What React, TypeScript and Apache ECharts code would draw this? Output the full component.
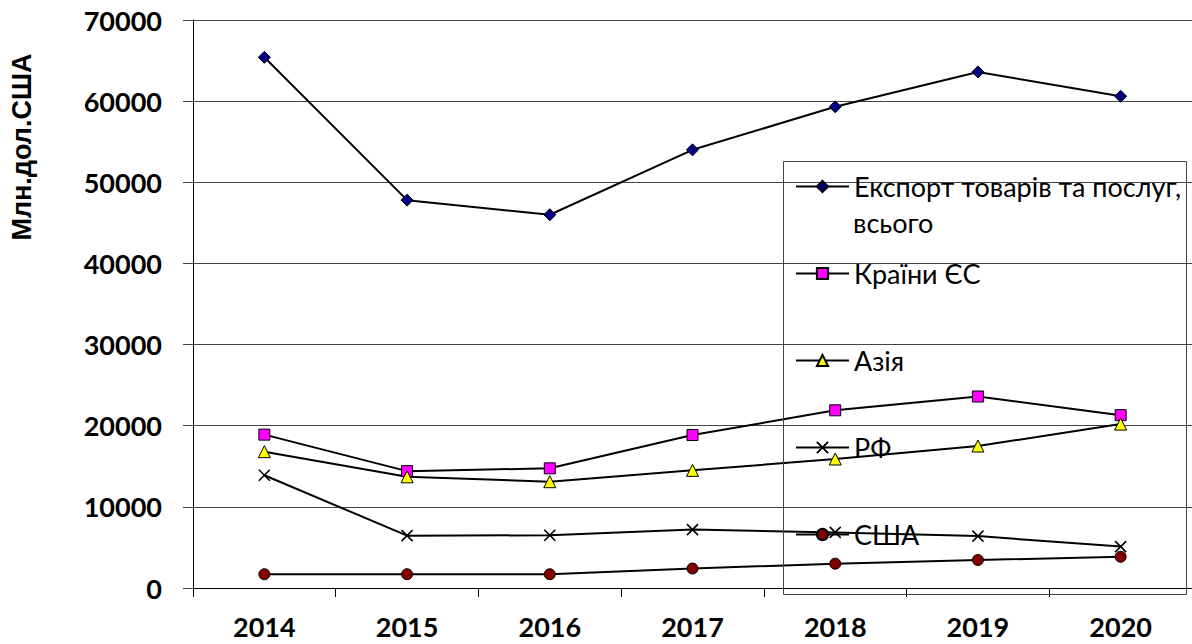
import React, { useEffect, useRef } from "react";
import * as echarts from "echarts";

const years = ["2014", "2015", "2016", "2017", "2018", "2019", "2020"];
const seriesNames = ["Експорт товарів та послуг,", "Країни ЄС", "Азія", "РФ", "США"];
const exportTotal = [65400, 47800, 46000, 54000, 59300, 63600, 60600];
const euCountries = [18900, 14400, 14750, 18850, 21900, 23600, 21300];
const asia = [16800, 13700, 13100, 14500, 15900, 17500, 20200];
const russia = [13900, 6450, 6500, 7200, 6850, 6400, 5100];
const usa = [1700, 1700, 1700, 2400, 3000, 3450, 3850];
const yTicks = { min: 0, max: 70000, interval: 10000 };
const yTitle = "Млн.дол.США";
const exportSecondLine = "всього";

const CROSS = "path://M0,0L10,10M10,0L0,10";

export default function App() {
  const ref = useRef<HTMLDivElement>(null);
  useEffect(() => {
    document.body.style.margin = "0";
    const chart = echarts.init(ref.current!, null, { renderer: "svg" });
    const labelFont = { fontFamily: "Lato", fontWeight: "bold" as const, fontSize: 27, color: "#000" };
    const mk = (name: string, data: number[], symbol: string, color: string, size: number, bw: number) => ({
      name,
      type: "line" as const,
      data,
      symbol,
      symbolSize: size,
      showSymbol: true,
      lineStyle: { color: "#000", width: 2 },
      itemStyle: { color, borderColor: "#000", borderWidth: bw },
      z: 3,
    });
    chart.setOption({
      animation: false,
      backgroundColor: "#fff",
      grid: { left: 193, top: 20, width: 1001, height: 568 },
      xAxis: {
        type: "category",
        data: years,
        boundaryGap: true,
        axisLine: { lineStyle: { color: "#000", width: 1 } },
        axisTick: { show: true, length: 9, lineStyle: { color: "#000" } },
        axisLabel: { ...labelFont, margin: 25 },
        splitLine: { show: false },
      },
      yAxis: {
        type: "value",
        min: yTicks.min,
        max: yTicks.max,
        interval: yTicks.interval,
        axisLine: { show: true, lineStyle: { color: "#000", width: 1 } },
        axisTick: { show: true, length: 10, lineStyle: { color: "#444" } },
        axisLabel: { ...labelFont, margin: 31, formatter: (v: number) => String(v) },
        splitLine: { show: true, lineStyle: { color: "#444", width: 1 } },
      },
      legend: {
        orient: "vertical",
        left: 795,
        top: 173,
        padding: 0,
        itemWidth: 53,
        itemHeight: 14,
        itemGap: 60,
        selectedMode: false,
        data: seriesNames,
        textStyle: { fontFamily: "Lato", fontSize: 27, color: "#000", lineHeight: 14 },
      },
      graphic: [
        {
          type: "rect",
          shape: { x: 783.5, y: 161.5, width: 403, height: 433 },
          style: { fill: "none", stroke: "#444", lineWidth: 1 },
          z: 10,
        },
        {
          type: "text",
          x: 853,
          y: 222,
          style: { text: exportSecondLine, fontFamily: "Lato", fontSize: 27, fill: "#000", verticalAlign: "middle" },
          z: 10,
        },
        {
          type: "text",
          x: 22,
          y: 147,
          rotation: Math.PI / 2,
          style: {
            text: yTitle,
            fontFamily: "Liberation Sans",
            fontWeight: "bold",
            fontSize: 27,
            fill: "#000",
            align: "center",
            verticalAlign: "middle",
          },
          z: 10,
        },
      ],
      series: [
        mk(seriesNames[0], exportTotal, "diamond", "#000080", 12, 1),
        mk(seriesNames[1], euCountries, "rect", "#FF00FF", 11, 1),
        mk(seriesNames[2], asia, "triangle", "#FFFF00", 12, 1),
        mk(seriesNames[3], russia, CROSS, "#000", 11, 1.6),
        mk(seriesNames[4], usa, "circle", "#800000", 11, 1),
      ],
    });
    return () => chart.dispose();
  }, []);
  return <div ref={ref} style={{ width: 1192, height: 644 }} />;
}
